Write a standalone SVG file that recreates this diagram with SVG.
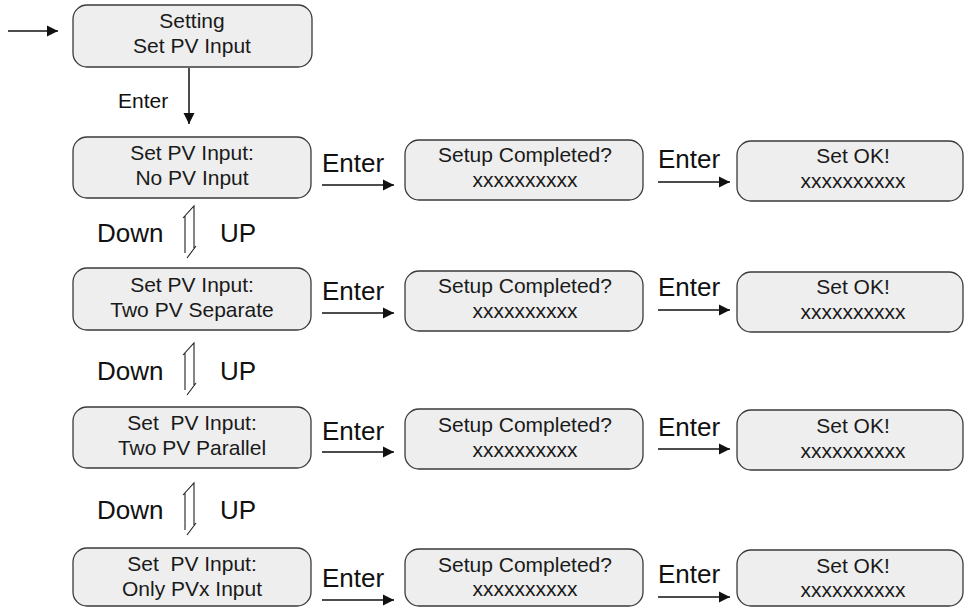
<svg xmlns="http://www.w3.org/2000/svg" width="966" height="607" viewBox="0 0 966 607">
<defs>
<marker id="ah" markerUnits="userSpaceOnUse" markerWidth="12" markerHeight="12" refX="11" refY="6" orient="auto">
<path d="M0,0.5 L11,6 L0,11.5 Z" fill="#111"/>
</marker>
</defs>
<style>
.box{fill:#eeeeee;stroke:#3a3a3a;stroke-width:1.3}
.t{font-family:"Liberation Sans",Arial,sans-serif;font-size:21px;fill:#1a1a1a;text-anchor:middle}
.lb{font-family:"Liberation Sans",Arial,sans-serif;font-size:26px;fill:#111}
.sm{font-family:"Liberation Sans",Arial,sans-serif;font-size:21px;fill:#111}
.c{stroke:#111;stroke-width:1.5;fill:none;marker-end:url(#ah)}
.dbl{stroke:#222;stroke-width:1.1;fill:none}
</style>
<rect width="966" height="607" fill="#ffffff"/>

<g id="n0"><rect class="box" x="73" y="5" width="239" height="62" rx="14"/><text class="t" x="192" y="28">Setting</text><text class="t" x="192" y="53">Set PV Input</text></g>

<g id="n1a"><rect class="box" x="73" y="137" width="238" height="61" rx="14"/><text class="t" x="192" y="160">Set PV Input:</text><text class="t" x="192" y="185">No PV Input</text></g>
<g id="n1b"><rect class="box" x="405" y="140" width="238" height="60" rx="14"/><text class="t" x="525" y="162">Setup Completed?</text><text class="t" x="525" y="187">xxxxxxxxxx</text></g>
<g id="n1c"><rect class="box" x="737" y="141" width="226" height="60" rx="14"/><text class="t" x="853" y="163">Set OK!</text><text class="t" x="853" y="188">xxxxxxxxxx</text></g>

<g id="n2a"><rect class="box" x="73" y="268" width="238" height="62" rx="14"/><text class="t" x="192" y="292">Set PV Input:</text><text class="t" x="192" y="317">Two PV Separate</text></g>
<g id="n2b"><rect class="box" x="405" y="271" width="238" height="60" rx="14"/><text class="t" x="525" y="293">Setup Completed?</text><text class="t" x="525" y="318">xxxxxxxxxx</text></g>
<g id="n2c"><rect class="box" x="737" y="272" width="226" height="60" rx="14"/><text class="t" x="853" y="294">Set OK!</text><text class="t" x="853" y="319">xxxxxxxxxx</text></g>

<g id="n3a"><rect class="box" x="73" y="407" width="238" height="61" rx="14"/><text class="t" x="192" y="430" xml:space="preserve">Set  PV Input:</text><text class="t" x="192" y="455">Two PV Parallel</text></g>
<g id="n3b"><rect class="box" x="405" y="409" width="238" height="60" rx="14"/><text class="t" x="525" y="432">Setup Completed?</text><text class="t" x="525" y="457">xxxxxxxxxx</text></g>
<g id="n3c"><rect class="box" x="737" y="410" width="226" height="60" rx="14"/><text class="t" x="853" y="433">Set OK!</text><text class="t" x="853" y="458">xxxxxxxxxx</text></g>

<g id="n4a"><rect class="box" x="73" y="548" width="238" height="58" rx="14"/><text class="t" x="192" y="571" xml:space="preserve">Set  PV Input:</text><text class="t" x="192" y="596">Only PVx Input</text></g>
<g id="n4b"><rect class="box" x="405" y="549" width="238" height="57" rx="14"/><text class="t" x="525" y="572">Setup Completed?</text><text class="t" x="525" y="596">xxxxxxxxxx</text></g>
<g id="n4c"><rect class="box" x="737" y="550" width="226" height="56" rx="14"/><text class="t" x="853" y="573">Set OK!</text><text class="t" x="853" y="597">xxxxxxxxxx</text></g>

<g id="connectors">
<line class="c" x1="8" y1="31" x2="58" y2="31"/>
<line class="c" x1="189" y1="68" x2="189" y2="124"/>
<text class="sm" x="118" y="108">Enter</text>

<line class="c" x1="322" y1="185" x2="394" y2="185"/><text class="lb" x="322" y="172">Enter</text>
<line class="c" x1="658" y1="182" x2="730" y2="182"/><text class="lb" x="658" y="168">Enter</text>
<line class="c" x1="322" y1="313" x2="394" y2="313"/><text class="lb" x="322" y="300">Enter</text>
<line class="c" x1="658" y1="310" x2="730" y2="310"/><text class="lb" x="658" y="296">Enter</text>
<line class="c" x1="322" y1="452" x2="394" y2="452"/><text class="lb" x="322" y="440">Enter</text>
<line class="c" x1="658" y1="449" x2="730" y2="449"/><text class="lb" x="658" y="436">Enter</text>
<line class="c" x1="322" y1="600" x2="394" y2="600"/><text class="lb" x="322" y="587">Enter</text>
<line class="c" x1="658" y1="597" x2="730" y2="597"/><text class="lb" x="658" y="583">Enter</text>

<path class="dbl" d="M185,253 V216 M183,218 L194,206 V248 M196,246 L187,258"/>
<text class="lb" x="97" y="242">Down</text><text class="lb" x="220" y="242">UP</text>
<path class="dbl" d="M185,390 V353 M183,355 L194,343 V385 M196,383 L187,395"/>
<text class="lb" x="97" y="380">Down</text><text class="lb" x="220" y="380">UP</text>
<path class="dbl" d="M185,530 V493 M183,495 L194,483 V525 M196,523 L187,535"/>
<text class="lb" x="97" y="519">Down</text><text class="lb" x="220" y="519">UP</text>
</g>
</svg>
